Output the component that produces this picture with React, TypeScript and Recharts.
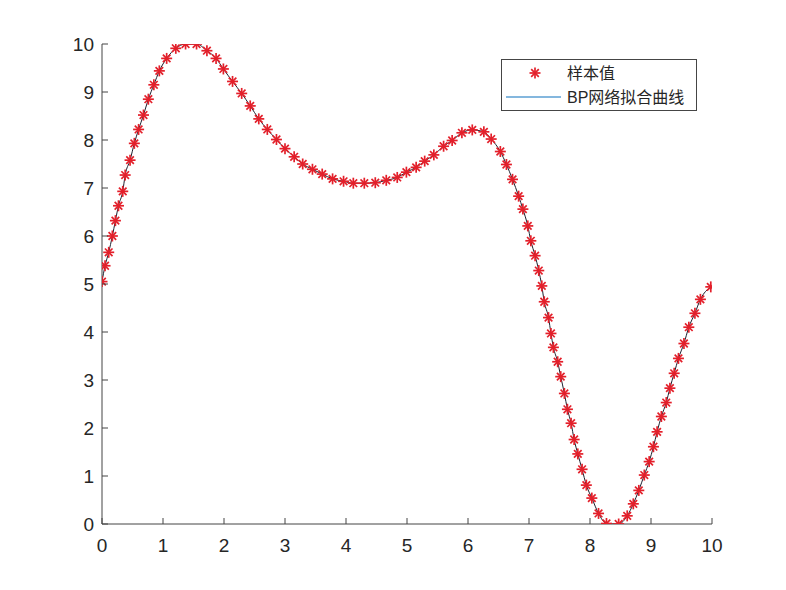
import React from 'react';
import { ComposedChart, Line, Scatter, XAxis, YAxis, Legend } from 'recharts';

const xValues = [
  0.0, 0.05, 0.11, 0.17, 0.22, 0.27, 0.34, 0.38, 0.46, 0.53,
  0.6, 0.68, 0.76, 0.85, 0.94, 1.06, 1.21, 1.37, 1.55, 1.72,
  1.87, 1.99, 2.14, 2.29, 2.43, 2.57, 2.71, 2.86, 3.0, 3.15,
  3.29, 3.45, 3.61, 3.78, 3.96, 4.12, 4.3, 4.48, 4.66, 4.84,
  4.99, 5.15, 5.29, 5.44, 5.6, 5.74, 5.9, 6.07, 6.26, 6.38,
  6.53, 6.63, 6.73, 6.83, 6.9, 6.98, 7.03, 7.1, 7.16, 7.21,
  7.25, 7.32, 7.36, 7.4, 7.47, 7.52, 7.58, 7.63, 7.69, 7.74,
  7.8, 7.87, 7.94, 8.03, 8.14, 8.27, 8.47, 8.61, 8.71, 8.8,
  8.89, 8.97, 9.04, 9.1, 9.17, 9.25, 9.31, 9.38, 9.45, 9.54,
  9.62, 9.72, 9.81, 9.98,
];

const yValues = [
  5.05, 5.38, 5.66, 6.0, 6.32, 6.63, 6.93, 7.27, 7.58, 7.93,
  8.22, 8.52, 8.85, 9.15, 9.44, 9.7, 9.91, 10.0, 10.0, 9.86,
  9.7, 9.48, 9.22, 8.97, 8.71, 8.44, 8.22, 8.01, 7.82, 7.65,
  7.5, 7.39, 7.29, 7.19, 7.14, 7.1, 7.1, 7.11, 7.16, 7.22,
  7.33, 7.43, 7.56, 7.69, 7.87, 7.99, 8.15, 8.21, 8.17, 8.02,
  7.76, 7.49, 7.18, 6.83, 6.56, 6.21, 5.9, 5.59, 5.28, 4.96,
  4.63, 4.3, 3.97, 3.68, 3.38, 3.07, 2.72, 2.39, 2.1, 1.76,
  1.46, 1.14, 0.81, 0.54, 0.22, 0.01, 0.0, 0.17, 0.42, 0.7,
  1.02, 1.3, 1.61, 1.92, 2.24, 2.53, 2.83, 3.14, 3.45, 3.76,
  4.1, 4.39, 4.68, 4.94,
];

const tickValues = [0, 1, 2, 3, 4, 5, 6, 7, 8, 9, 10];
const legendLabels = ['样本值', 'BP网络拟合曲线'];

const data = xValues.map((x, i) => ({ x, y: yValues[i] }));

const AXIS = '#454545';
const TEXT = '#262626';
const RED = '#e3202b';
const FONT = '"Liberation Sans", Arial, Helvetica, sans-serif';
const TL = 6;

const Star = ({ cx, cy }: { cx: number; cy: number }) => (
  <g stroke={RED} strokeWidth={1.7} fill="none">
    <line x1={cx - 5.5} y1={cy} x2={cx + 5.5} y2={cy} />
    <line x1={cx} y1={cy - 5.5} x2={cx} y2={cy + 5.5} />
    <line x1={cx - 3.8} y1={cy - 3.8} x2={cx + 3.8} y2={cy + 3.8} />
    <line x1={cx - 3.8} y1={cy + 3.8} x2={cx + 3.8} y2={cy - 3.8} />
  </g>
);

const BottomTick = (props: any) => {
  const { x, y, payload } = props;
  return (
    <g>
      <line x1={x} y1={y} x2={x} y2={y - TL} stroke={AXIS} />
      <text x={x} y={y + 28} textAnchor="middle" fill={TEXT} fontSize={19} fontFamily={FONT}>
        {payload.value}
      </text>
    </g>
  );
};

const LeftTick = (props: any) => {
  const { x, y, payload } = props;
  return (
    <g>
      <line x1={x} y1={y} x2={x + TL} y2={y} stroke={AXIS} />
      <text x={x - 8} y={y + 7} textAnchor="end" fill={TEXT} fontSize={19} fontFamily={FONT}>
        {payload.value}
      </text>
    </g>
  );
};

const TopTick = (props: any) => {
  const { x, y } = props;
  return <line x1={x} y1={y} x2={x} y2={y + TL} stroke={AXIS} />;
};

const RightTick = (props: any) => {
  const { x, y } = props;
  return <line x1={x} y1={y} x2={x - TL} y2={y} stroke={AXIS} />;
};

const LegendBox = () => (
  <svg width={196} height={52} style={{ display: 'block' }}>
    <rect x={0.5} y={0.5} width={195} height={51} fill="#ffffff" stroke={AXIS} strokeWidth={1} />
    <Star cx={34} cy={14} />
    <text x={66} y={14} dominantBaseline="central" fontSize={16} fill={TEXT}
      fontFamily={'"Liberation Sans", Arial, "Noto Sans CJK SC", sans-serif'}>
      {legendLabels[0]}
    </text>
    <line x1={5} y1={38} x2={60} y2={38} stroke="#5b9fd3" strokeWidth={1.5} />
    <text x={66} y={38} dominantBaseline="central" fontSize={16} fill={TEXT}
      fontFamily={'"Liberation Sans", Arial, "Noto Sans CJK SC", sans-serif'}>
      {legendLabels[1]}
    </text>
  </svg>
);

export default function App() {
  return (
    <div style={{ position: 'absolute', left: 0, top: 0, width: 786, height: 590, background: '#ffffff' }}>
      <ComposedChart
        width={786}
        height={590}
        data={data}
        margin={{ top: 44, right: 74, bottom: 26, left: 62 }}
      >
        <XAxis
          xAxisId="bottom"
          dataKey="x"
          type="number"
          domain={[0, 10]}
          ticks={tickValues}
          interval={0}
          height={40}
          tickSize={0}
          tickMargin={0}
          axisLine={{ stroke: AXIS }}
          tickLine={false}
          tick={<BottomTick />}
          allowDataOverflow
        />
        <XAxis
          xAxisId="top"
          orientation="top"
          dataKey="x"
          type="number"
          domain={[0, 10]}
          ticks={tickValues}
          interval={0}
          height={0}
          tickSize={0}
          tickMargin={0}
          axisLine={{ stroke: AXIS }}
          tickLine={false}
          tick={<TopTick />}
          allowDataOverflow
        />
        <YAxis
          yAxisId="left"
          type="number"
          domain={[0, 10]}
          ticks={tickValues}
          interval={0}
          width={40}
          tickSize={0}
          tickMargin={0}
          axisLine={{ stroke: AXIS }}
          tickLine={false}
          tick={<LeftTick />}
          allowDataOverflow
        />
        <YAxis
          yAxisId="right"
          orientation="right"
          type="number"
          domain={[0, 10]}
          ticks={tickValues}
          interval={0}
          width={0}
          tickSize={0}
          tickMargin={0}
          axisLine={{ stroke: AXIS }}
          tickLine={false}
          tick={<RightTick />}
          allowDataOverflow
        />
        <Legend
          layout="vertical"
          align="center"
          verticalAlign="middle"
          content={() => <LegendBox />}
          wrapperStyle={{ left: 501, top: 59, width: 196, height: 52 }}
        />
        <Line
          xAxisId="bottom"
          yAxisId="left"
          dataKey="y"
          type="monotone"
          stroke="#1c1f2e"
          strokeWidth={1}
          dot={false}
          isAnimationActive={false}
          legendType="none"
        />
        <Scatter
          xAxisId="bottom"
          yAxisId="left"
          dataKey="y"
          shape={(p: any) => <Star cx={p.cx} cy={p.cy} />}
          isAnimationActive={false}
          legendType="none"
        />
      </ComposedChart>
    </div>
  );
}
